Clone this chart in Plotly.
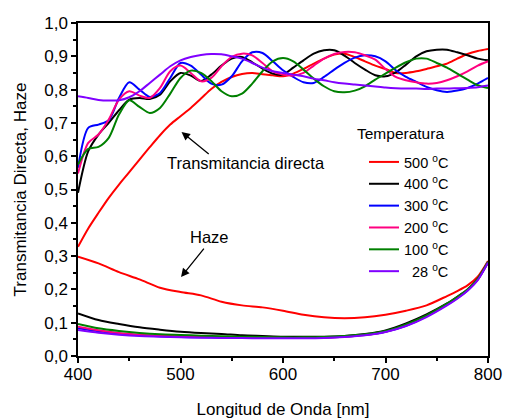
import plotly.graph_objects as go

# ---------------- data ----------------
wl_t = [400, 410, 420, 430, 440, 450, 460, 470, 480, 490,
        500, 510, 520, 530, 540, 550, 560, 570, 580, 590,
        600, 610, 620, 630, 640, 650, 660, 670, 680, 690,
        700, 710, 720, 730, 740, 750, 760, 770, 780, 790, 800]

t_500 = [0.328, 0.383, 0.430, 0.475, 0.515, 0.552, 0.590, 0.627, 0.663, 0.695,
         0.720, 0.745, 0.773, 0.802, 0.823, 0.838, 0.847, 0.850, 0.846, 0.843,
         0.840, 0.848, 0.862, 0.878, 0.893, 0.905, 0.908, 0.898, 0.885, 0.872,
         0.862, 0.850, 0.850, 0.855, 0.862, 0.870, 0.878, 0.893, 0.907, 0.916, 0.922]
t_400 = [0.490, 0.615, 0.665, 0.700, 0.738, 0.770, 0.775, 0.772, 0.785, 0.825,
         0.850, 0.842, 0.826, 0.845, 0.872, 0.893, 0.898, 0.882, 0.863, 0.848,
         0.845, 0.866, 0.888, 0.908, 0.918, 0.918, 0.902, 0.880, 0.860, 0.843,
         0.840, 0.852, 0.875, 0.900, 0.915, 0.920, 0.920, 0.912, 0.903, 0.893, 0.888]
t_300 = [0.565, 0.685, 0.695, 0.708, 0.775, 0.822, 0.800, 0.778, 0.790, 0.835,
         0.880, 0.872, 0.845, 0.818, 0.815, 0.840, 0.885, 0.912, 0.910, 0.885,
         0.858, 0.838, 0.822, 0.820, 0.838, 0.860, 0.880, 0.896, 0.903, 0.900,
         0.885, 0.858, 0.838, 0.823, 0.808, 0.798, 0.793, 0.797, 0.805, 0.818, 0.835]
t_200 = [0.548, 0.640, 0.665, 0.710, 0.770, 0.795, 0.782, 0.775, 0.805, 0.855,
         0.872, 0.850, 0.825, 0.835, 0.870, 0.898, 0.908, 0.903, 0.880, 0.855,
         0.845, 0.842, 0.850, 0.872, 0.893, 0.907, 0.913, 0.912, 0.903, 0.890,
         0.862, 0.838, 0.828, 0.822, 0.818, 0.820, 0.828, 0.840, 0.855, 0.872, 0.885]
t_100 = [0.575, 0.622, 0.628, 0.655, 0.725, 0.768, 0.748, 0.730, 0.745, 0.788,
         0.835, 0.857, 0.850, 0.826, 0.795, 0.780, 0.788, 0.818, 0.855, 0.885,
         0.895, 0.885, 0.860, 0.833, 0.810, 0.795, 0.792, 0.797, 0.810, 0.830,
         0.848, 0.866, 0.882, 0.893, 0.893, 0.880, 0.866, 0.848, 0.830, 0.813, 0.805]
t_28 = [0.780, 0.775, 0.769, 0.767, 0.768, 0.777, 0.795, 0.820, 0.845, 0.870,
        0.888, 0.898, 0.904, 0.907, 0.906, 0.900, 0.893, 0.880, 0.866, 0.855,
        0.850, 0.845, 0.840, 0.833, 0.828, 0.822, 0.818, 0.815, 0.812, 0.809,
        0.806, 0.804, 0.803, 0.803, 0.802, 0.803, 0.803, 0.804, 0.805, 0.807, 0.812]

wl_h = [400, 420, 440, 460, 480, 500, 520, 540, 560, 580, 600, 620,
        640, 660, 680, 700, 720, 740, 760, 770, 780, 790, 800]

h_500 = [0.298, 0.278, 0.252, 0.230, 0.205, 0.192, 0.182, 0.163, 0.152, 0.146, 0.136, 0.124,
         0.116, 0.113, 0.116, 0.124, 0.136, 0.152, 0.180, 0.195, 0.212, 0.238, 0.285]
h_400 = [0.128, 0.108, 0.096, 0.086, 0.079, 0.073, 0.069, 0.066, 0.062, 0.060, 0.058, 0.058,
         0.058, 0.060, 0.066, 0.077, 0.098, 0.125, 0.158, 0.178, 0.200, 0.232, 0.283]
h_300 = [0.083, 0.074, 0.067, 0.062, 0.059, 0.057, 0.056, 0.055, 0.055, 0.054, 0.054, 0.054,
         0.055, 0.058, 0.063, 0.073, 0.091, 0.119, 0.154, 0.174, 0.197, 0.229, 0.281]
h_200 = [0.088, 0.077, 0.069, 0.064, 0.061, 0.059, 0.058, 0.057, 0.056, 0.055, 0.054, 0.054,
         0.055, 0.058, 0.063, 0.073, 0.092, 0.120, 0.155, 0.175, 0.198, 0.230, 0.282]
h_100 = [0.096, 0.083, 0.075, 0.069, 0.065, 0.063, 0.061, 0.059, 0.058, 0.057, 0.056, 0.056,
         0.057, 0.060, 0.065, 0.075, 0.095, 0.122, 0.157, 0.177, 0.200, 0.232, 0.282]
h_28 = [0.078, 0.070, 0.064, 0.060, 0.058, 0.056, 0.055, 0.054, 0.054, 0.053, 0.053, 0.053,
        0.054, 0.057, 0.062, 0.072, 0.090, 0.117, 0.152, 0.172, 0.196, 0.228, 0.280]

labels = ["500 <sup>o</sup>C", "400 <sup>o</sup>C", "300 <sup>o</sup>C",
          "200 <sup>o</sup>C", "100 <sup>o</sup>C", "\u00a0\u00a028 <sup>o</sup>C"]
colors = ["#FF0000", "#000000", "#0000FF", "#FF0080", "#008000", "#8000FF"]
trans = [t_500, t_400, t_300, t_200, t_100, t_28]
haze = [h_500, h_400, h_300, h_200, h_100, h_28]

x_ticks = [400, 500, 600, 700, 800]
y_ticks = [0.0, 0.1, 0.2, 0.3, 0.4, 0.5, 0.6, 0.7, 0.8, 0.9, 1.0]

FONT = "Liberation Sans, Arial, sans-serif"

fig = go.Figure()
for i in range(6):
    fig.add_trace(go.Scatter(x=wl_t, y=trans[i], mode="lines", name=labels[i],
                             line=dict(color=colors[i], width=2, shape="spline", smoothing=0.8),
                             legendgroup=f"g{i}", showlegend=True))
for i in range(6):
    fig.add_trace(go.Scatter(x=wl_h, y=haze[i], mode="lines", name=labels[i],
                             line=dict(color=colors[i], width=2, shape="spline", smoothing=0.8),
                             legendgroup=f"g{i}", showlegend=False))

axis_common = dict(showgrid=False, zeroline=False, linecolor="black", linewidth=1.5,
                   tickcolor="black", tickwidth=1.5, ticklen=5, automargin=False,
                   tickfont=dict(family=FONT, size=17, color="black"))

fig.update_layout(
    width=506, height=419,
    margin=dict(l=78, r=18, t=23, b=63, autoexpand=False),
    paper_bgcolor="white", plot_bgcolor="white",
    separators=",.",
    font=dict(family=FONT, color="black"),
    xaxis=dict(range=[400, 800], tickvals=x_ticks, ticks="outside", showline=True, mirror=True,
               ticklabelstandoff=-3,
               minor=dict(dtick=50, tick0=400, ticklen=3, ticks="outside", tickcolor="black", tickwidth=1.5),
               title=dict(text="Longitud de Onda [nm]", font=dict(family=FONT, size=17), standoff=25),
               **axis_common),
    yaxis=dict(range=[0, 1.0], tickvals=y_ticks, tickformat=".1f", ticks="outside", showline=True, mirror=True,
               minor=dict(dtick=0.05, tick0=0, ticklen=3, ticks="outside", tickcolor="black", tickwidth=1.5),
               title=dict(text="Transmitancia Directa, Haze", font=dict(family=FONT, size=17), standoff=13),
               **axis_common),
    xaxis2=dict(range=[400, 800], overlaying="x", side="top", anchor="y", tickvals=x_ticks,
                ticks="inside", showticklabels=False, showline=False,
                minor=dict(dtick=50, tick0=400, ticklen=3, ticks="inside", tickcolor="black", tickwidth=1.5),
                **axis_common),
    yaxis2=dict(range=[0, 1.0], overlaying="y", side="right", anchor="x", tickvals=y_ticks,
                ticks="inside", showticklabels=False, showline=False,
                minor=dict(dtick=0.05, tick0=0, ticklen=3, ticks="inside", tickcolor="black", tickwidth=1.5),
                **axis_common),
    legend=dict(x=(364 - 78) / 410, y=(356 - 146) / 333, xanchor="left", yanchor="top",
                bgcolor="rgba(0,0,0,0)", font=dict(family=FONT, size=14.5, color="black"),
                tracegroupgap=0, itemwidth=30),
    showlegend=True,
)

fig.add_annotation(x=(355 - 78) / 410, y=(356 - 133) / 333, xref="paper", yref="paper",
                   text="Temperatura", showarrow=False, xanchor="left", yanchor="middle",
                   font=dict(family=FONT, size=15.5, color="black"))

# text labels
fig.add_annotation(x=564, y=0.579, xref="x", yref="y", text="Transmitancia directa",
                   showarrow=False, font=dict(family=FONT, size=16.5, color="black"))
fig.add_annotation(x=528, y=0.357, xref="x", yref="y", text="Haze",
                   showarrow=False, font=dict(family=FONT, size=16.5, color="black"))
# arrows
fig.add_annotation(x=501, y=0.673, ax=529, ay=0.603, xref="x", yref="y", axref="x", ayref="y",
                   text="", showarrow=True, arrowhead=2, arrowsize=1.3, arrowwidth=1.3, arrowcolor="black")
fig.add_annotation(x=500.5, y=0.237, ax=524, ay=0.327, xref="x", yref="y", axref="x", ayref="y",
                   text="", showarrow=True, arrowhead=2, arrowsize=1.3, arrowwidth=1.3, arrowcolor="black")

fig.write_html("out.html")
